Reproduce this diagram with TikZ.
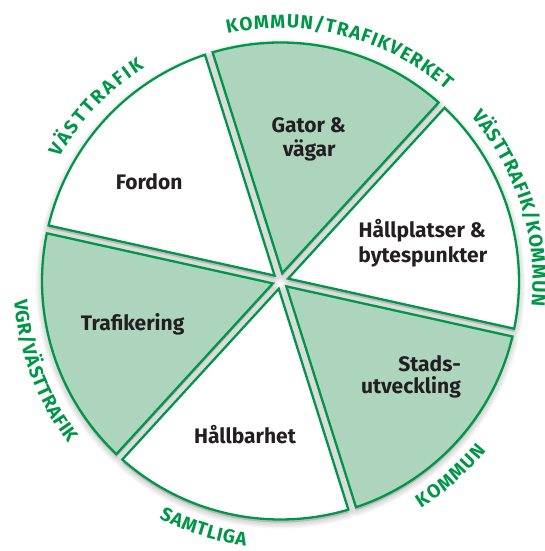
\documentclass[tikz,border=0pt]{standalone}
\usepackage{fontspec}
\setmainfont{Fira Sans}
\usetikzlibrary{decorations.text}
\definecolor{grn}{RGB}{0,150,72}
\definecolor{lgrn}{RGB}{173,213,189}
\definecolor{ink}{RGB}{35,31,32}
\begin{document}
\begin{tikzpicture}[x=1pt,y=1pt,
  sec/.style={insert path={({#1+30}:8pt) -- ({#1+0.96}:238.5pt) arc[start angle={#1+0.96}, end angle={#1+59.04}, radius=238.5pt] -- cycle}},
  slice/.style={draw=grn, line width=2.3pt, line join=miter},
  shadelayer/.style={draw=black, fill=black, opacity=0.04, line join=round},
  inlbl/.style={font=\fontsize{21}{24}\selectfont\bfseries, text=ink, inner sep=0pt, anchor=base},
  arclbl/.style={decorate, decoration={text along path, text align={fit to path}, text={|\fontsize{19}{22}\selectfont\bfseries\color{grn}|#1}}}
]
\useasboundingbox (0,0) rectangle (545,551);
\coordinate (C) at (280.5,270);
\begin{scope}[shift={(C)}]
  % soft drop shadow
  \begin{scope}[yshift=-3pt]
    \foreach \a in {-12.5,47.5,107.5,167.5,227.5,287.5}{
      \foreach \w in {3,6,9,12}{
        \path[shadelayer, line width=\w pt, sec=\a];
      }
    }
  \end{scope}
  % sectors
  \path[slice, fill=white, sec=-12.5];
  \path[slice, fill=lgrn,  sec=47.5];
  \path[slice, fill=white, sec=107.5];
  \path[slice, fill=lgrn,  sec=167.5];
  \path[slice, fill=white, sec=227.5];
  \path[slice, fill=lgrn,  sec=287.5];
  % outer labels
  \path[arclbl=VÄSTTRAFIK] (150.9:253pt) arc[start angle=150.9, end angle=122.5, radius=253pt];
  \path[arclbl=KOMMUN/TRAFIKVERKET] (102.1:253pt) arc[start angle=102.1, end angle=49.0, radius=253pt];
  \path[arclbl=VÄSTTRAFIK/KOMMUN] (40.8:252pt) arc[start angle=40.8, end angle=-5.6, radius=252pt];
  \path[arclbl=VGR/VÄSTTRAFIK] (184.2:267pt) arc[start angle=184.2, end angle=217.5, radius=267pt];
  \path[arclbl=SAMTLIGA] (242.9:267pt) arc[start angle=242.9, end angle=262.5, radius=267pt];
  \path[arclbl=KOMMUN] (301.7:267pt) arc[start angle=301.7, end angle=320.6, radius=267pt];
\end{scope}
% sector texts
\node[inlbl] (gator1) at (308.7,418) {Gator \&};
\node[inlbl] (gator2) at (309.2,394.5) {vägar};
\node[inlbl] (fordon) at (149.1,361.6) {Fordon};
\node[inlbl] (hp1) at (422.3,313.6) {Hållplatser \&};
\node[inlbl] (hp2) at (422.8,288) {bytespunkter};
\node[inlbl] (traf) at (132.6,220) {Trafikering};
\node[inlbl] (hb) at (245,107.7) {Hållbarhet};
\node[inlbl, anchor=base east] (st1) at (461,179.8) {Stads-};
\node[inlbl, anchor=base east] (st2) at (461,157.2) {utveckling};
\end{tikzpicture}
\end{document}
